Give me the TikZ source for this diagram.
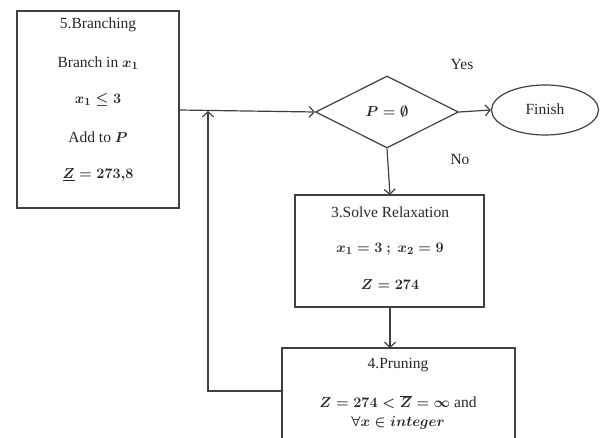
\documentclass[tikz,border=0pt]{standalone}
\usepackage{fontspec}
\setmainfont{Liberation Serif}
\usetikzlibrary{shapes.geometric,arrows.meta}
\begin{document}
\begin{tikzpicture}[x=1pt,y=-1pt,
  every node/.style={font=\fontsize{15.5}{18}\selectfont\boldmath, text=black!85},
  line/.style={draw=black!75, line width=1.2pt},
  arr/.style={line, -{Straight Barb[length=5pt,width=11pt]}},
  lbl/.style={inner sep=0pt, anchor=center}]
\useasboundingbox (0,0) rectangle (604,438);
\begin{scope}
\clip (0,0) rectangle (604,438);
% process boxes
\draw[line] (17,11) rectangle (179,208);
\coordinate (b5e) at (179,110);
\draw[line] (295,195) rectangle (484,307);
\coordinate (b3n) at (390,195);
\coordinate (b3s) at (390,307);
\draw[line] (282,348) rectangle (515,460);
\coordinate (b4n) at (390,348);
\coordinate (b4w) at (282,391);
% decision and terminal
\node[diamond, line, minimum width=143pt, minimum height=72pt, inner sep=0pt, aspect=2] (dec) at (387,112) {};
\node[lbl] (decT) at (387,112) {$P=\emptyset$};
\node[ellipse, line, minimum width=107pt, minimum height=50pt, inner sep=0pt] (fin) at (545,110) {};
\node[lbl] (finT) at (545,109) {Finish};
% labels of box 5
\node[lbl] (t51) at (98,25) {5.Branching};
\node[lbl] (t52) at (98,63) {Branch in $x_1$};
\node[lbl] (t53) at (98,100) {$x_1\leq 3$};
\node[lbl] (t54) at (98,137) {Add to $P$};
\node[lbl] (t55) at (98,175) {$\underline{Z}=273{,}8$};
% labels of box 3
\node[lbl] (t31) at (390,212) {3.Solve Relaxation};
\node[lbl] (t32) at (390,249) {$x_1=3\ ;\ x_2=9$};
\node[lbl] (t33) at (390,285) {$Z=274$};
% labels of box 4
\node[lbl] (t41) at (398,365) {4.Pruning};
\node[lbl] (t42) at (398,402) {$Z=274<\overline{Z}=\infty$ and};
\node[lbl] (t43) at (398,423) {$\forall x\in integer$};
% branch labels
\node[lbl] (yes) at (462,65) {Yes};
\node[lbl] (no) at (460,160) {No};
% connectors
\draw[arr] (b5e) -- (dec.west);
\draw[arr] (dec.east) -- (fin.west);
\draw[arr] (dec.south) -- (b3n);
\draw[arr] (b3s) -- (b4n);
\coordinate (loopA) at (208,391);
\coordinate (loopB) at (208,111);
\draw[arr] (b4w) -- (loopA) -- (loopB);
\end{scope}
\end{tikzpicture}
\end{document}
